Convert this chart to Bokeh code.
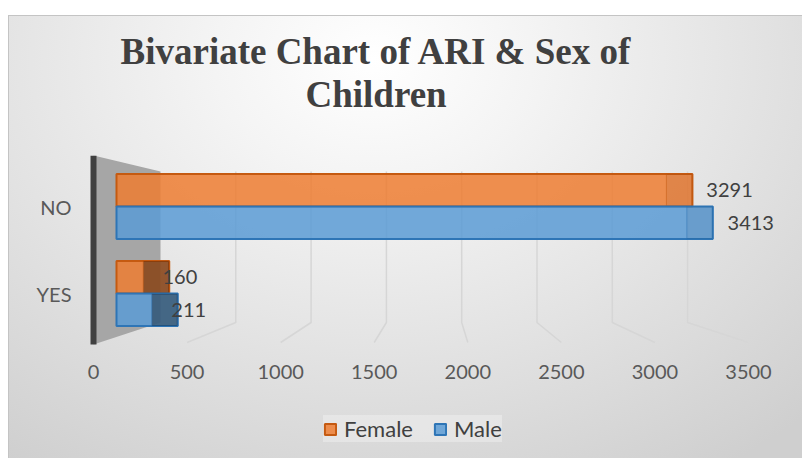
from bokeh.plotting import figure
from bokeh.models import (Range1d, LinearAxis, FixedTicker, Title, Legend, LegendItem,
                          ColumnDataSource, Spacer)
from bokeh.layouts import column, row
from bokeh.core.properties import value
from bokeh.embed import file_html
from bokeh.resources import INLINE

# ---------------- data ----------------
categories = ["YES", "NO"]
female = [160, 3291]
male = [211, 3413]
x_ticks = [0, 500, 1000, 1500, 2000, 2500, 3000, 3500]
series_names = ["Female", "Male"]
title_line1 = "Bivariate Chart of ARI & Sex of"
title_line2 = "Children"

# ---------------- layout / style ----------------
W, H = 794, 443
ML, MR, MT, MB = 72, 17, 140, 0
FW = W - ML - MR
FH = H - MT - MB

# pseudo-3D perspective: (px offset from frame left, px per unit)
X0 = 13.0                         # front edge of the side wall inside the frame
BAR0, BAR_S = X0 + 23.0, 0.1671   # front face of the bars
AX0, AX_S = X0, 655 / 3500        # front edge of the floor (tick labels)
BACK0, BACK_S = X0 + 67.0, 0.1506 # back wall
LAB0, LAB_S = X0 + 41.2, 0.1737   # data labels
CAP_PX = 26.0                     # depth of bar end caps

ROW = 87.0                        # px per category
FONT = value("Lato")


def rng(off, s):
    start = -off / s
    return Range1d(start, start + FW / s)


x_main = rng(BAR0, BAR_S)


def to_main(px):
    return x_main.start + px / BAR_S


n = len(categories)
y_start = -165 / ROW
y_rng = Range1d(y_start, y_start + FH / ROW)
wall_top = (n - 1) + 35 / ROW
wall_bottom = -51 / ROW          # front edge of the floor (axis line)
floor_back = -29 / ROW
floor_front = -49 / ROW

p = figure(width=W, height=H, x_range=x_main, y_range=y_rng, title=None,
           output_backend="svg", toolbar_location=None,
           x_axis_location=None, y_axis_location="left",
           min_border_left=ML, min_border_right=MR,
           min_border_top=MT, min_border_bottom=MB)
p.extra_x_ranges = {"front": rng(AX0, AX_S), "back": rng(BACK0, BACK_S),
                    "labels": rng(LAB0, LAB_S)}
p.grid.visible = False
p.outline_line_color = None
p.background_fill_alpha = 0
p.border_fill_alpha = 0
p.styles = {
    "background": "radial-gradient(ellipse 80% 110% at 46% 10%, #ffffff 0%, #f4f4f4 25%, "
                  "#e3e3e3 60%, #cfcfcf 100%)",
    "box-shadow": "inset 1px 1px 0 #c4c4c4",
}

# side wall
p.patch(x=[to_main(AX0), to_main(BACK0), to_main(BACK0), to_main(AX0)],
        y=[y_rng.end, wall_top, floor_back, wall_bottom],
        fill_color="#a6a6a6", line_color=None)
# dark front edge of the side wall
p.segment(x0=[to_main(AX0)], y0=[wall_bottom], x1=[to_main(AX0)], y1=[y_rng.end],
          line_color="#404040", line_width=6)

# back-wall gridlines + floor lines
xs, ys = [], []
for t in x_ticks[1:]:
    bx = to_main(BACK0 + t * BACK_S)
    fx = to_main(AX0 + t * AX_S)
    xs.append([bx, bx, fx])
    ys.append([wall_top, floor_back, floor_front])
p.multi_line(xs=xs, ys=ys, line_color="#d6d6d6", line_width=1.5)

# bars
h = 0.374
cap_u = CAP_PX / BAR_S
styles = {"Female": ("#ED7D31", "#C55A11"), "Male": ("#5B9BD5", "#2E75B6")}
renderers = {}
for name, vals, sign in (("Female", female, 1), ("Male", male, -1)):
    fill, line = styles[name]
    src = ColumnDataSource(dict(
        y=[i + sign * h / 2 for i in range(n)],
        v=vals,
        r=[v + cap_u for v in vals],
        lbl=[str(v) for v in vals],
        # end caps that sit in front of the grey side wall look darker
        ca=[0.38 if BAR0 + v * BAR_S < BACK0 else 0.05 for v in vals],
    ))
    r = p.hbar(y="y", left=0, right="r", height=h, source=src,
               fill_color=fill, fill_alpha=0.85, line_color=line, line_width=2)
    p.hbar(y="y", left="v", right="r", height=h, source=src,
           fill_color="black", fill_alpha="ca", line_color=line, line_alpha=0.5, line_width=1)
    p.text(x="v", y="y", text="lbl", source=src, x_range_name="labels",
           text_font=FONT, text_font_size="20px", text_baseline="middle",
           text_color="#404040")
    renderers[name] = r

# axes
ya = p.yaxis[0]
ya.ticker = FixedTicker(ticks=list(range(n)))
ya.major_label_overrides = {i: c for i, c in enumerate(categories)}
ya.axis_line_color = None
ya.major_tick_line_color = None
ya.minor_tick_line_color = None
ya.major_label_standoff = 3
ya.major_label_text_font = "Lato"
ya.major_label_text_font_size = "20px"
ya.major_label_text_color = "#595959"

xa = LinearAxis(x_range_name="front", ticker=FixedTicker(ticks=x_ticks),
                fixed_location=wall_bottom)
xa.axis_line_color = None
xa.major_tick_line_color = None
xa.minor_tick_line_color = None
xa.major_label_standoff = 14
xa.major_label_text_font = "Lato"
xa.major_label_text_font_size = "20px"
xa.major_label_text_color = "#595959"
p.add_layout(xa, "below")

# titles (a near-invisible spacer title keeps the two lines clear of the plot)
gap = Title(text=".", text_font_size="10px", text_alpha=0.01, standoff=31)
t2 = Title(text=title_line2, align="left", offset=212 + X0, standoff=0,
           text_font="Liberation Serif", text_font_size="37px",
           text_font_style="bold", text_color="#404040")
t1 = Title(text=title_line1, align="left", offset=27 + X0, standoff=0,
           text_font="Liberation Serif", text_font_size="37px",
           text_font_style="bold", text_color="#404040")
p.add_layout(gap, "above")
p.add_layout(t2, "above")
p.add_layout(t1, "above")

# legend
legend = Legend(items=[LegendItem(label=s, renderers=[renderers[s]]) for s in series_names],
                orientation="horizontal", location=(243, 16),
                label_text_font="Lato", label_text_font_size="22px",
                label_text_color="#404040", glyph_width=14, glyph_height=14,
                label_standoff=7, spacing=20, padding=10, margin=0,
                background_fill_color="white", background_fill_alpha=0.3,
                border_line_color=None)
p.add_layout(legend)

layout = column(Spacer(width=W + 8, height=15), row(Spacer(width=8, height=H), p))
open("out.html", "w").write(file_html(layout, INLINE))
